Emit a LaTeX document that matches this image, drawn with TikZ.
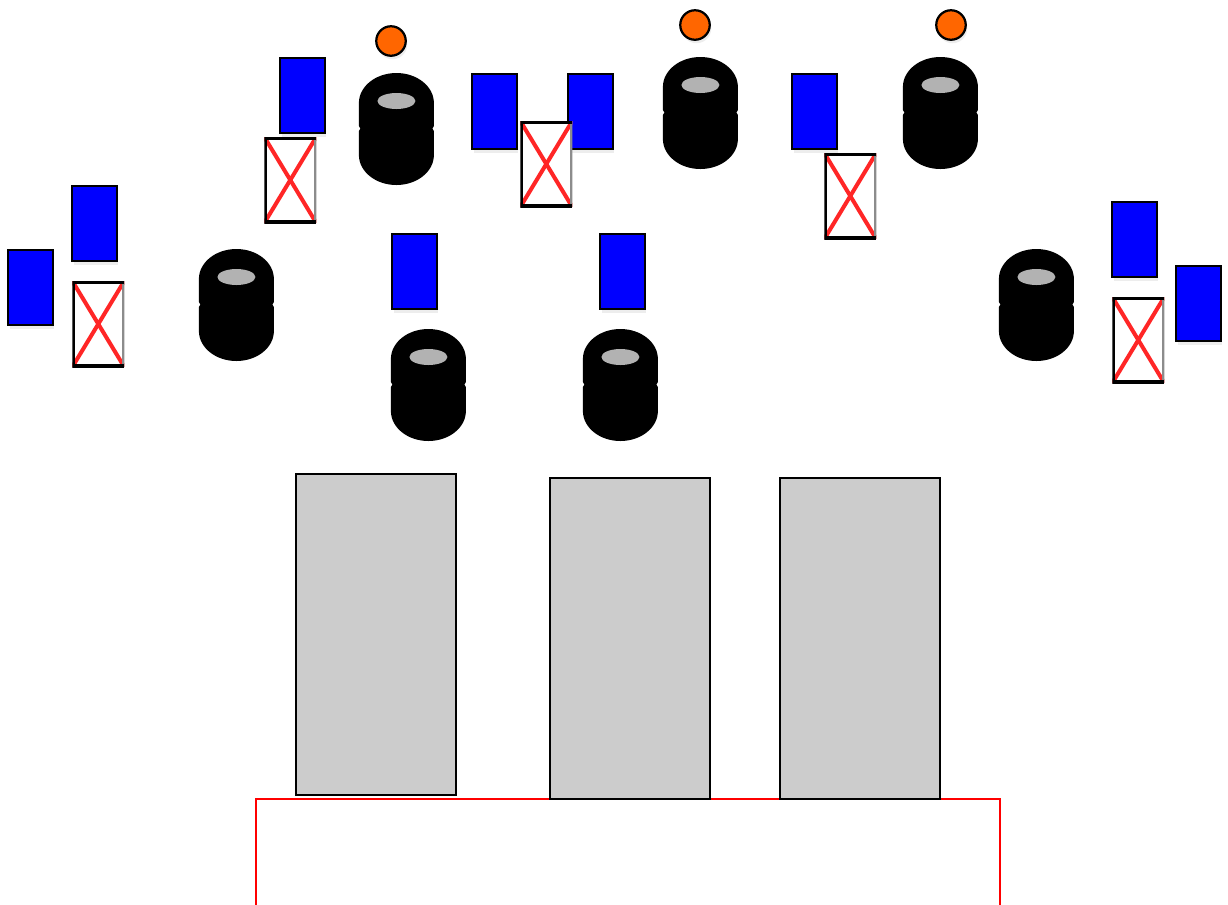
\documentclass[tikz,border=0pt]{standalone}
\usepackage{xcolor}
\usetikzlibrary{shadows, shapes.geometric}
\definecolor{discorange}{RGB}{255,102,0}
\tikzstyle{soft}=[drop shadow={shadow xshift=0.03cm, shadow yshift=-0.07cm, opacity=0.14}]
\tikzstyle{bluecard}=[draw, line width=0.045cm, fill=blue, inner sep=0pt, minimum width=0.895cm, minimum height=1.5cm, soft]
\tikzstyle{xcard}=[fill=white, inner sep=0pt, minimum width=1.04cm, minimum height=1.72cm, path picture={
    \draw[red!85!white, line width=0.08cm] (path picture bounding box.north west) -- (path picture bounding box.south east);
    \draw[red!85!white, line width=0.08cm] (path picture bounding box.south west) -- (path picture bounding box.north east);
    \draw[black!45, line width=0.1cm] (path picture bounding box.north east) -- (path picture bounding box.south east);
    \draw[black, line width=0.11cm] (path picture bounding box.north east) -- (path picture bounding box.north west) -- (path picture bounding box.south west) -- (path picture bounding box.south east);
}]
\tikzstyle{ball}=[draw, line width=0.045cm, circle, fill=discorange, inner sep=0pt, minimum size=0.59cm, soft]
\tikzstyle{hole}=[ellipse, fill=black!30, inner sep=0pt, minimum width=0.76cm, minimum height=0.32cm]
\tikzstyle{slab}=[draw, line width=0.05cm, fill=black!20, inner sep=0pt, minimum width=3.2cm, minimum height=6.42cm]
\tikzstyle{tray}=[draw=red, line width=0.035cm, fill=white, inner sep=0pt, minimum width=14.88cm, minimum height=2.8cm, soft]
\begin{document}
\begin{tikzpicture}[x=0.02cm, y=-0.02cm]
        \clip (0,0) rectangle (1228,904);
        \useasboundingbox (0,0) rectangle (1228,904);
        \node[tray] (tray) at (628,869) {};
        \node[slab] (slab1) at (376,634.5) {};
        \node[slab] (slab2) at (630,638.5) {};
        \node[slab] (slab3) at (860,638.5) {};
        \foreach \x/\y/\n in {302.5/95.8/a,494.5/111.8/b,590.5/111.8/c,814.5/111.8/d,94.5/223.8/e,30.5/287.8/f,414.5/271.8/g,622.5/271.8/h,1134.5/239.8/i,1198.5/303.8/j} {
             \node[bluecard] (card\n) at (\x,\y) {};
        }
        \foreach \x/\y/\n in {290.3/180/a,546.3/164/b,850.3/196/c,98.3/324/d,1138.3/340/e} {
             \node[xcard] (cross\n) at (\x,\y) {};
        }
        \foreach \x/\y/\n in {396.4/73/a,700.4/57/b,940.4/57/c,236.4/249/d,1036.4/249/e,428.4/329/f,620.4/329/g} {
             \fill (\x-37.5,\y+30) arc[start angle=180, end angle=360, x radius=37.5, y radius=30]
                -- ++(0,23) -- ++(-1.5,2.5) -- ++(1.5,2.5) -- ++(0,24)
                arc[start angle=0, end angle=180, x radius=37.5, y radius=30]
                -- ++(0,-24) -- ++(1.5,-2.5) -- ++(-1.5,-2.5) -- cycle;
             \node[hole] (hole\n) at (\x,\y+28) {};
        }
        \foreach \x/\y/\n in {391/41/a,695/25/b,951/25/c} {
             \node[ball] (ball\n) at (\x,\y) {};
        }
    \end{tikzpicture}
\end{document}
